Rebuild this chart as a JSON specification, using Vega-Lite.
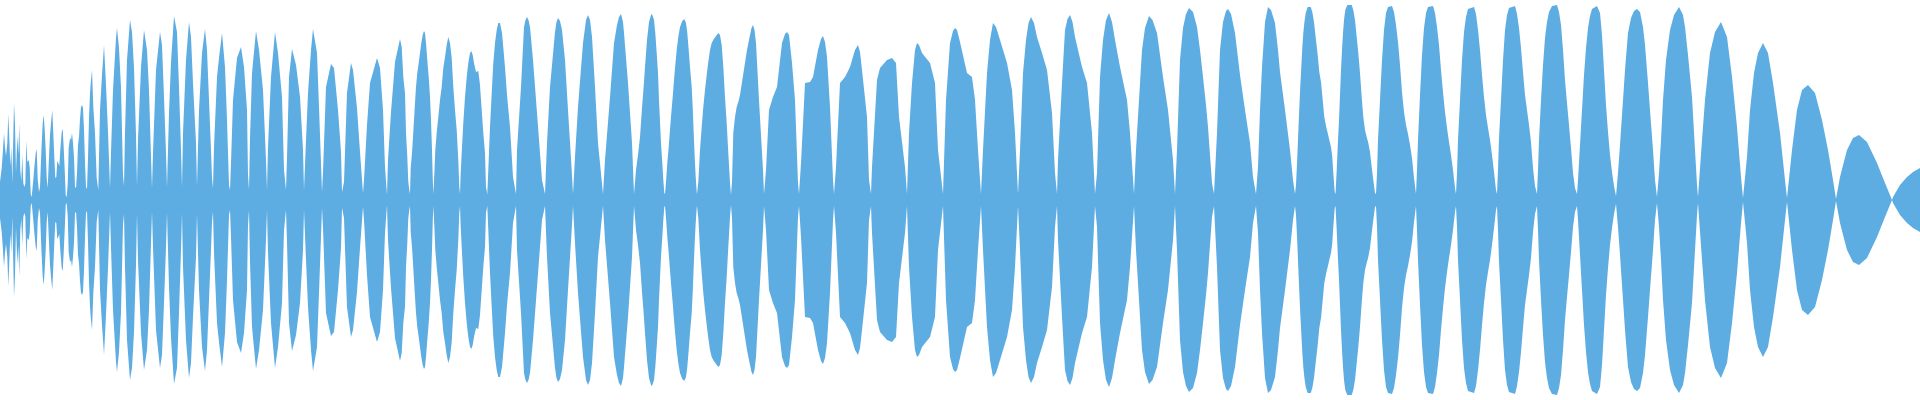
{
"$schema": "https://vega.github.io/schema/vega-lite/v6.json",
"autosize": {"type": "fit", "contains": "padding"},
"width": 1920, "height": 400, "padding": 0,
"background": "white",
"config": {"view": {"stroke": null}},
"data": {"values": [
{"x":0,"a":18},{"x":1.7,"a":32},{"x":2.7,"a":46},{"x":4,"a":67},{"x":5,"a":53},{"x":6,"a":44},{"x":7.3,"a":57},{"x":8.3,"a":86},{"x":9.3,"a":62},{"x":10.3,"a":34},{"x":11.3,"a":53},{"x":12.3,"a":17},{"x":14,"a":97},{"x":15,"a":76},{"x":16,"a":27},{"x":17.3,"a":64},{"x":18.3,"a":46},{"x":19.3,"a":76},{"x":20.3,"a":30},{"x":21.3,"a":19},{"x":22.3,"a":45},{"x":23.3,"a":17},{"x":24.3,"a":13},{"x":25.3,"a":16},{"x":26.3,"a":59},{"x":27.3,"a":38},{"x":28.7,"a":40},{"x":29.7,"a":33},{"x":30.7,"a":6},{"x":31.7,"a":3},{"x":33,"a":17},{"x":34.3,"a":32},{"x":35.7,"a":47},{"x":36.7,"a":51},{"x":37.7,"a":21},{"x":39,"a":8},{"x":40,"a":13},{"x":41.3,"a":47},{"x":42.7,"a":77},{"x":43.7,"a":85},{"x":44.7,"a":70},{"x":45.7,"a":50},{"x":46.7,"a":22},{"x":47.7,"a":12},{"x":48.7,"a":36},{"x":50,"a":65},{"x":51,"a":77},{"x":52.3,"a":90},{"x":53.3,"a":67},{"x":54.3,"a":43},{"x":55.3,"a":22},{"x":56.3,"a":23},{"x":57.3,"a":39},{"x":58.3,"a":37},{"x":59.3,"a":34},{"x":60.3,"a":50},{"x":61.7,"a":68},{"x":62.7,"a":71},{"x":63.7,"a":52},{"x":64.7,"a":30},{"x":65.7,"a":5},{"x":66.7,"a":3},{"x":67.7,"a":16},{"x":68.7,"a":52},{"x":70,"a":62},{"x":71,"a":60},{"x":72,"a":67},{"x":73,"a":57},{"x":74,"a":43},{"x":75,"a":13},{"x":76,"a":12},{"x":77,"a":27},{"x":78,"a":55},{"x":79,"a":63},{"x":80,"a":81},{"x":81,"a":93},{"x":82,"a":95},{"x":83,"a":92},{"x":84,"a":70},{"x":85,"a":37},{"x":86,"a":13},{"x":87,"a":11},{"x":88,"a":42},{"x":89,"a":82},{"x":90,"a":107},{"x":91,"a":120},{"x":92,"a":130},{"x":93.3,"a":93},{"x":95,"a":67},{"x":96.7,"a":22},{"x":98.3,"a":10},
{"x":100,"a":90},{"x":102,"a":125},{"x":104,"a":155},{"x":106,"a":115},{"x":108,"a":68},{"x":110,"a":12},{"x":111,"a":47},{"x":113,"a":110},{"x":116,"a":162},{"x":117,"a":172},{"x":119,"a":152},{"x":121,"a":112},{"x":123,"a":25},{"x":124,"a":14},{"x":125,"a":67},{"x":127,"a":140},{"x":130,"a":180},{"x":132,"a":168},{"x":134,"a":132},{"x":136,"a":65},{"x":137,"a":14},{"x":138,"a":60},{"x":141,"a":133},{"x":144,"a":170},{"x":147,"a":150},{"x":149,"a":110},{"x":151,"a":43},{"x":152,"a":12},{"x":153,"a":47},{"x":156,"a":130},{"x":160,"a":168},{"x":162,"a":155},{"x":164,"a":103},{"x":166,"a":47},{"x":167,"a":13},{"x":169,"a":87},{"x":171,"a":138},{"x":174,"a":184},{"x":177,"a":168},{"x":179,"a":113},{"x":181,"a":50},{"x":182,"a":13},{"x":183,"a":67},{"x":186,"a":140},{"x":189,"a":178},{"x":191,"a":163},{"x":193,"a":117},{"x":196,"a":57},{"x":197,"a":14},{"x":199,"a":90},{"x":202,"a":147},{"x":205,"a":171},{"x":207,"a":150},{"x":209,"a":100},{"x":211,"a":50},{"x":212,"a":22},{"x":213,"a":12},{"x":214,"a":53},{"x":217,"a":123},{"x":219,"a":142},{"x":222,"a":167},{"x":225,"a":133},{"x":227,"a":80},{"x":229,"a":15},{"x":230,"a":10},{"x":231,"a":37},{"x":233,"a":100},{"x":237,"a":142},{"x":241,"a":153},{"x":244,"a":133},{"x":247,"a":90},{"x":248,"a":25},{"x":249,"a":10},{"x":250,"a":62},{"x":252,"a":127},{"x":256,"a":169},{"x":259,"a":150},{"x":263,"a":110},{"x":266,"a":40},{"x":267,"a":10},{"x":268,"a":53},{"x":271,"a":123},{"x":275,"a":168},{"x":278,"a":147},{"x":282,"a":103},{"x":284,"a":30},{"x":286,"a":10},{"x":287,"a":42},{"x":289,"a":123},{"x":292,"a":151},{"x":296,"a":135},{"x":300,"a":103},{"x":303,"a":50},{"x":304,"a":10},{"x":306,"a":60},{"x":308,"a":107},{"x":311,"a":150},{"x":313,"a":171},{"x":317,"a":147},{"x":319,"a":93},{"x":320,"a":65},{"x":322,"a":8},
{"x":323,"a":28},{"x":326,"a":113},{"x":331,"a":136},{"x":334,"a":132},{"x":338,"a":90},{"x":341,"a":48},{"x":342,"a":8},{"x":344,"a":18},{"x":347,"a":107},{"x":351,"a":137},{"x":353,"a":130},{"x":357,"a":92},{"x":360,"a":48},{"x":363,"a":7},{"x":364,"a":20},{"x":367,"a":75},{"x":370,"a":117},{"x":377,"a":142},{"x":380,"a":132},{"x":383,"a":90},{"x":385,"a":33},{"x":387,"a":5},{"x":388,"a":40},{"x":391,"a":88},{"x":395,"a":138},{"x":400,"a":161},{"x":401.7,"a":153},{"x":403.3,"a":123},{"x":405,"a":107},{"x":406,"a":67},{"x":407.3,"a":43},{"x":408.3,"a":18},{"x":409.3,"a":10},{"x":410,"a":6},
{"x":410.7,"a":32},{"x":412,"a":47},{"x":413.3,"a":68},{"x":414.7,"a":92},{"x":416,"a":113},{"x":417.3,"a":127},{"x":418.7,"a":137},{"x":420,"a":147},{"x":421.3,"a":157},{"x":422.7,"a":165},{"x":424,"a":169},{"x":425,"a":167},{"x":426,"a":157},{"x":427.3,"a":140},{"x":428.7,"a":123},{"x":430,"a":103},{"x":431,"a":80},{"x":432,"a":50},{"x":432.7,"a":23},{"x":433.3,"a":6},
{"x":434.3,"a":25},{"x":435.3,"a":50},{"x":436.7,"a":67},{"x":438.3,"a":83},{"x":440,"a":100},{"x":441.7,"a":113},{"x":443.3,"a":132},{"x":445,"a":143},{"x":446.7,"a":155},{"x":448.3,"a":163},{"x":450,"a":157},{"x":451.7,"a":142},{"x":453.3,"a":113},{"x":455,"a":90},{"x":456.7,"a":70},{"x":458.3,"a":40},{"x":459.3,"a":13},{"x":460,"a":6},
{"x":460.7,"a":27},{"x":461.7,"a":47},{"x":463.3,"a":77},{"x":465,"a":103},{"x":466.7,"a":123},{"x":468.3,"a":137},{"x":470,"a":147},{"x":471.3,"a":149},{"x":472.7,"a":145},{"x":474,"a":137},{"x":476,"a":128},{"x":478.3,"a":129},{"x":480,"a":115},{"x":481.7,"a":90},{"x":483.3,"a":67},{"x":485,"a":47},{"x":486,"a":13},{"x":487.3,"a":6},
{"x":488.3,"a":30},{"x":490,"a":73},{"x":491.7,"a":107},{"x":493.3,"a":137},{"x":495,"a":157},{"x":496.7,"a":170},{"x":498.3,"a":177},{"x":500,"a":177},{"x":502,"a":167},{"x":503.5,"a":150},{"x":505,"a":133},{"x":507,"a":105},{"x":510,"a":73},{"x":513,"a":23},{"x":516,"a":6},
{"x":517,"a":50},{"x":521,"a":113},{"x":524,"a":173},{"x":525.5,"a":180},{"x":527,"a":183},{"x":528.5,"a":180},{"x":530,"a":173},{"x":533,"a":140},{"x":537,"a":87},{"x":542,"a":20},{"x":545,"a":6},{"x":547,"a":57},{"x":550,"a":113},{"x":555,"a":168},{"x":556.5,"a":178},{"x":558,"a":182},{"x":560,"a":179},{"x":562,"a":170},{"x":565,"a":140},{"x":568,"a":90},{"x":572,"a":25},{"x":573,"a":6},{"x":575,"a":43},{"x":578,"a":93},{"x":583,"a":157},{"x":586,"a":180},{"x":588,"a":185},{"x":590,"a":180},{"x":592,"a":163},{"x":595,"a":113},{"x":598,"a":57},{"x":603,"a":6},{"x":605,"a":40},{"x":610,"a":103},{"x":614,"a":157},{"x":617,"a":175},{"x":619,"a":183},{"x":621,"a":186},{"x":623,"a":178},{"x":624,"a":167},{"x":628,"a":117},{"x":632,"a":57},{"x":634,"a":6},
{"x":636,"a":30},{"x":638,"a":45},{"x":640,"a":63},{"x":642,"a":92},{"x":644,"a":118},{"x":645,"a":133},{"x":647,"a":160},{"x":649,"a":178},{"x":651,"a":185},{"x":652,"a":186},{"x":654,"a":180},{"x":655.3,"a":167},{"x":656.7,"a":147},{"x":658,"a":127},{"x":659,"a":100},{"x":660,"a":78},{"x":661,"a":57},{"x":662.3,"a":37},{"x":663.3,"a":20},{"x":664.3,"a":7},{"x":665,"a":6},
{"x":666,"a":18},{"x":667.3,"a":37},{"x":668.7,"a":53},{"x":670,"a":70},{"x":671.3,"a":87},{"x":672.7,"a":103},{"x":674,"a":120},{"x":675.3,"a":135},{"x":676.7,"a":150},{"x":678.3,"a":163},{"x":680,"a":173},{"x":682.3,"a":179},{"x":684.3,"a":181},{"x":686,"a":177},{"x":687.3,"a":167},{"x":688.7,"a":150},{"x":690,"a":133},{"x":691.7,"a":113},{"x":692.7,"a":93},{"x":693.7,"a":67},{"x":694.7,"a":43},{"x":695.7,"a":23},{"x":696.7,"a":8},{"x":697,"a":6},
{"x":698.3,"a":18},{"x":700,"a":50},{"x":701.7,"a":73},{"x":703.3,"a":93},{"x":705,"a":110},{"x":706.7,"a":125},{"x":708.3,"a":138},{"x":710,"a":150},{"x":711.7,"a":157},{"x":713.3,"a":160},{"x":716,"a":164},{"x":718.3,"a":167},{"x":720,"a":165},{"x":721.7,"a":155},{"x":723.3,"a":133},{"x":725,"a":103},{"x":726.7,"a":77},{"x":728.3,"a":47},{"x":730,"a":17},{"x":731,"a":5},
{"x":732,"a":18},{"x":733.3,"a":67},{"x":735,"a":83},{"x":736.7,"a":93},{"x":738.3,"a":98},{"x":740,"a":105},{"x":747,"a":150},{"x":750,"a":165},{"x":751.5,"a":172},{"x":753,"a":175},{"x":754.5,"a":170},{"x":756,"a":157},{"x":759,"a":100},{"x":763,"a":30},{"x":764,"a":6},{"x":766,"a":30},{"x":769,"a":90},{"x":773,"a":103},{"x":777,"a":113},{"x":782,"a":157},{"x":785,"a":166},{"x":787,"a":168},{"x":789,"a":165},{"x":792,"a":137},{"x":795,"a":100},{"x":798,"a":17},{"x":799,"a":6},{"x":801,"a":37},{"x":805,"a":117},{"x":810,"a":118},{"x":813,"a":123},{"x":818,"a":150},{"x":821,"a":161},{"x":823,"a":164},{"x":825,"a":158},{"x":827,"a":143},{"x":830,"a":93},{"x":833,"a":20},{"x":834,"a":6},{"x":836,"a":33},{"x":840,"a":117},{"x":845,"a":123},{"x":850,"a":133},{"x":855,"a":150},{"x":858,"a":155},{"x":860,"a":148},{"x":862,"a":130},{"x":867,"a":83},{"x":869,"a":20},{"x":871,"a":6},{"x":872,"a":33},{"x":877,"a":120},{"x":880,"a":132},{"x":887,"a":140},{"x":892,"a":142},{"x":896,"a":137},{"x":899,"a":83},{"x":905,"a":33},{"x":907,"a":6},{"x":909,"a":67},{"x":912,"a":117},{"x":915,"a":150},{"x":917,"a":157},{"x":919,"a":155},{"x":922,"a":147},{"x":930,"a":137},{"x":935,"a":117},{"x":938,"a":50},{"x":943,"a":6},{"x":946,"a":100},{"x":950,"a":157},{"x":953,"a":169},{"x":955,"a":172},{"x":957,"a":170},{"x":960,"a":158},{"x":967,"a":127},{"x":972,"a":123},{"x":975,"a":100},{"x":978,"a":50},{"x":981,"a":6},
{"x":983,"a":50},{"x":987,"a":127},{"x":990,"a":160},{"x":993,"a":177},{"x":996,"a":173},{"x":1000,"a":160},{"x":1007,"a":137},{"x":1012,"a":110},{"x":1015,"a":67},{"x":1018,"a":6},{"x":1020,"a":50},{"x":1023,"a":127},{"x":1026,"a":160},{"x":1028.5,"a":177},{"x":1031,"a":183},{"x":1034,"a":177},{"x":1037,"a":163},{"x":1042,"a":147},{"x":1047,"a":130},{"x":1052,"a":87},{"x":1055,"a":27},{"x":1057,"a":6},{"x":1058,"a":40},{"x":1062,"a":117},{"x":1065,"a":170},{"x":1067.5,"a":181},{"x":1070,"a":185},{"x":1072.5,"a":178},{"x":1075,"a":163},{"x":1082,"a":133},{"x":1087,"a":117},{"x":1092,"a":67},{"x":1095,"a":6},{"x":1097,"a":27},{"x":1100,"a":123},{"x":1103,"a":160},{"x":1106,"a":180},{"x":1109,"a":187},{"x":1112,"a":178},{"x":1115,"a":160},{"x":1120,"a":133},{"x":1127,"a":100},{"x":1130,"a":67},{"x":1134,"a":6},{"x":1136,"a":50},{"x":1142,"a":150},{"x":1145,"a":172},{"x":1149,"a":184},{"x":1152.5,"a":180},{"x":1157,"a":167},{"x":1163,"a":123},{"x":1168,"a":90},{"x":1173,"a":40},{"x":1175,"a":6},
{"x":1177,"a":50},{"x":1180,"a":140},{"x":1183,"a":172},{"x":1186,"a":186},{"x":1189,"a":192},{"x":1193,"a":188},{"x":1197,"a":173},{"x":1200,"a":150},{"x":1203,"a":123},{"x":1206,"a":95},{"x":1208,"a":73},{"x":1210,"a":45},{"x":1212,"a":17},{"x":1214,"a":6},
{"x":1217,"a":67},{"x":1220,"a":150},{"x":1223,"a":178},{"x":1226,"a":189},{"x":1228,"a":191},{"x":1231,"a":186},{"x":1235,"a":167},{"x":1240,"a":125},{"x":1245,"a":90},{"x":1250,"a":57},{"x":1253,"a":23},{"x":1256,"a":6},
{"x":1258,"a":33},{"x":1260,"a":90},{"x":1262,"a":133},{"x":1265,"a":178},{"x":1268,"a":193},{"x":1271,"a":190},{"x":1275,"a":177},{"x":1278,"a":150},{"x":1280,"a":128},{"x":1285,"a":90},{"x":1290,"a":50},{"x":1293,"a":20},{"x":1295,"a":6},
{"x":1296,"a":15},{"x":1297.3,"a":43},{"x":1298.3,"a":68},{"x":1299.3,"a":92},{"x":1300.3,"a":114},{"x":1301.3,"a":133},{"x":1302.3,"a":152},{"x":1303.3,"a":167},{"x":1304.3,"a":177},{"x":1305.7,"a":187},{"x":1307.7,"a":193},{"x":1310.7,"a":193},{"x":1312.3,"a":188},{"x":1314,"a":178},{"x":1316,"a":160},{"x":1317.7,"a":145},{"x":1319.3,"a":128},{"x":1321,"a":118},{"x":1322.7,"a":100},{"x":1324.3,"a":83},{"x":1326,"a":74},{"x":1327.7,"a":67},{"x":1329.3,"a":60},{"x":1331,"a":53},{"x":1332.3,"a":43},{"x":1333.3,"a":27},{"x":1334.7,"a":8},{"x":1335.5,"a":6},
{"x":1336.7,"a":30},{"x":1337.7,"a":53},{"x":1339,"a":80},{"x":1340,"a":105},{"x":1341,"a":130},{"x":1342,"a":150},{"x":1343,"a":167},{"x":1344,"a":180},{"x":1345.3,"a":190},{"x":1347.3,"a":195},{"x":1351.7,"a":195},{"x":1353.3,"a":190},{"x":1355,"a":180},{"x":1356.7,"a":163},{"x":1358.3,"a":147},{"x":1360,"a":127},{"x":1361.7,"a":103},{"x":1363.3,"a":83},{"x":1365,"a":70},{"x":1366.7,"a":63},{"x":1368.3,"a":57},{"x":1370,"a":48},{"x":1371.7,"a":33},{"x":1373.3,"a":20},{"x":1375,"a":7},{"x":1376,"a":6},
{"x":1377,"a":27},{"x":1378,"a":60},{"x":1380,"a":100},{"x":1382,"a":140},{"x":1384,"a":170},{"x":1386,"a":187},{"x":1388,"a":193},{"x":1392,"a":194},{"x":1394,"a":188},{"x":1396,"a":175},{"x":1398,"a":158},{"x":1400,"a":135},{"x":1402,"a":108},{"x":1404,"a":88},{"x":1406,"a":75},{"x":1408,"a":66},{"x":1410,"a":55},{"x":1412,"a":42},{"x":1414,"a":22},{"x":1416,"a":6},
{"x":1417,"a":30},{"x":1418,"a":60},{"x":1420,"a":105},{"x":1422,"a":145},{"x":1424,"a":172},{"x":1426,"a":187},{"x":1428,"a":193},{"x":1433,"a":194},{"x":1435,"a":187},{"x":1437,"a":173},{"x":1439,"a":155},{"x":1441,"a":130},{"x":1443,"a":108},{"x":1445,"a":88},{"x":1447,"a":72},{"x":1449,"a":58},{"x":1451,"a":45},{"x":1453,"a":30},{"x":1455,"a":12},{"x":1456,"a":6},
{"x":1457,"a":27},{"x":1458,"a":60},{"x":1460,"a":100},{"x":1462,"a":140},{"x":1464,"a":168},{"x":1466,"a":183},{"x":1468,"a":191},{"x":1474,"a":193},{"x":1476,"a":186},{"x":1478,"a":170},{"x":1480,"a":150},{"x":1482,"a":125},{"x":1484,"a":103},{"x":1486,"a":85},{"x":1488,"a":72},{"x":1490,"a":60},{"x":1492,"a":45},{"x":1494,"a":28},{"x":1496,"a":10},{"x":1497,"a":6},
{"x":1498,"a":30},{"x":1499,"a":62},{"x":1501,"a":100},{"x":1503,"a":140},{"x":1505,"a":170},{"x":1507,"a":185},{"x":1509,"a":192},{"x":1515,"a":194},{"x":1517,"a":186},{"x":1519,"a":172},{"x":1521,"a":152},{"x":1523,"a":128},{"x":1525,"a":105},{"x":1527,"a":90},{"x":1529,"a":75},{"x":1531,"a":58},{"x":1533,"a":32},{"x":1535,"a":14},{"x":1537,"a":6},
{"x":1538,"a":30},{"x":1539,"a":60},{"x":1541,"a":100},{"x":1543,"a":135},{"x":1545,"a":162},{"x":1547,"a":178},{"x":1549,"a":188},{"x":1552,"a":194},{"x":1557,"a":195},{"x":1559,"a":188},{"x":1561,"a":175},{"x":1563,"a":150},{"x":1565,"a":120},{"x":1567,"a":97},{"x":1569,"a":75},{"x":1571,"a":52},{"x":1573,"a":27},{"x":1575,"a":12},{"x":1577,"a":6},
{"x":1578,"a":20},{"x":1580,"a":55},{"x":1582,"a":90},{"x":1584,"a":125},{"x":1586,"a":152},{"x":1588,"a":172},{"x":1590,"a":184},{"x":1592,"a":191},{"x":1597,"a":194},{"x":1600,"a":187},{"x":1602,"a":165},{"x":1604,"a":130},{"x":1606,"a":95},{"x":1608,"a":68},{"x":1610,"a":45},{"x":1612,"a":28},{"x":1614,"a":14},{"x":1616,"a":4},
{"x":1618,"a":27},{"x":1620,"a":55},{"x":1623,"a":100},{"x":1625,"a":130},{"x":1628,"a":167},{"x":1631,"a":182},{"x":1634,"a":189},{"x":1637,"a":191},{"x":1640,"a":188},{"x":1643,"a":173},{"x":1645,"a":155},{"x":1648,"a":117},{"x":1650,"a":90},{"x":1653,"a":50},{"x":1655,"a":20},{"x":1657,"a":3},
{"x":1659,"a":27},{"x":1661,"a":60},{"x":1663,"a":100},{"x":1666,"a":140},{"x":1670,"a":170},{"x":1674,"a":185},{"x":1679,"a":193},{"x":1683,"a":185},{"x":1685,"a":173},{"x":1688,"a":145},{"x":1692,"a":103},{"x":1695,"a":50},{"x":1697,"a":15},{"x":1698,"a":3},
{"x":1702,"a":60},{"x":1705,"a":100},{"x":1710,"a":147},{"x":1715,"a":168},{"x":1721,"a":178},{"x":1727,"a":163},{"x":1732,"a":123},{"x":1737,"a":73},{"x":1741,"a":23},{"x":1743,"a":2},{"x":1747,"a":43},{"x":1750,"a":90},{"x":1754,"a":127},{"x":1758,"a":147},{"x":1763,"a":157},{"x":1768,"a":147},{"x":1773,"a":117},{"x":1780,"a":67},{"x":1785,"a":20},{"x":1787,"a":2},{"x":1792,"a":50},{"x":1797,"a":90},{"x":1802,"a":110},{"x":1808,"a":115},{"x":1815,"a":107},{"x":1822,"a":80},{"x":1828,"a":50},{"x":1833,"a":20},{"x":1836,"a":1},{"x":1840,"a":23},{"x":1847,"a":50},{"x":1853,"a":62},{"x":1859,"a":65},{"x":1867,"a":58},{"x":1877,"a":37},{"x":1885,"a":17},{"x":1892,"a":0},{"x":1893,"a":3},{"x":1900,"a":15},{"x":1907,"a":23},{"x":1913,"a":28},{"x":1920,"a":32}
]},
"mark": {"type": "area", "color": "#5DADE2", "opacity": 1},
"encoding": {
  "x": {"field": "x", "type": "quantitative", "scale": {"domain": [0, 1920], "nice": false, "zero": false}, "axis": null},
  "y": {"field": "a", "type": "quantitative", "stack": "center", "scale": {"domain": [-2.5, 197.5], "nice": false, "zero": false}, "axis": null}
}
}
